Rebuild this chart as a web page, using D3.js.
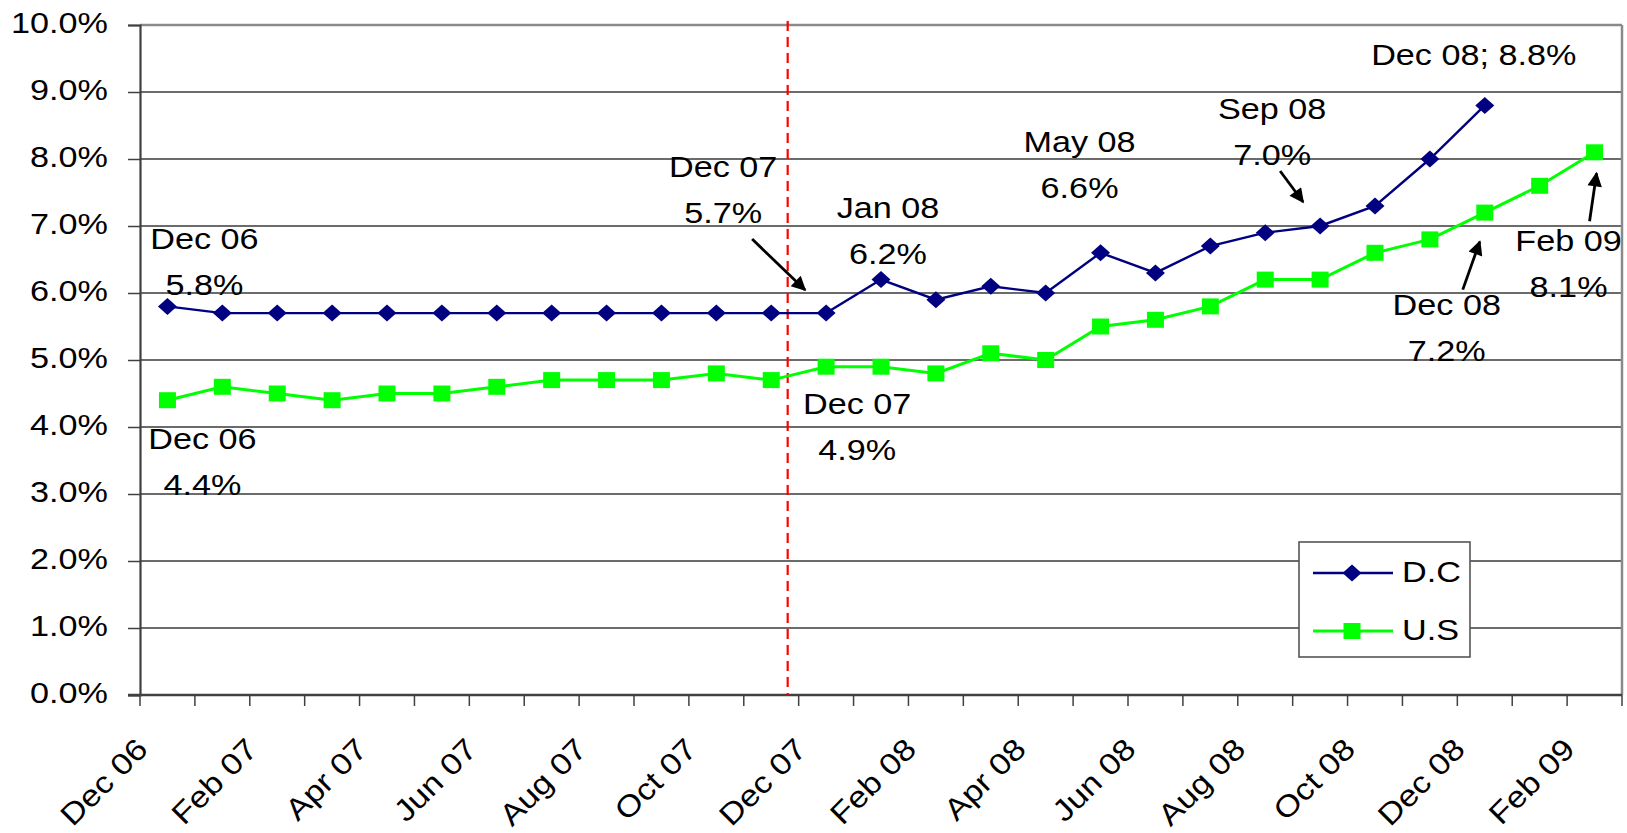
<!DOCTYPE html>
<html>
<head>
<meta charset="utf-8">
<script src="https://cdn.jsdelivr.net/npm/d3@7"></script>
<style>
  html, body { margin: 0; padding: 0; background: #ffffff; }
  svg { display: block; }
  text { font-family: "Liberation Sans", Arial, sans-serif; fill: #000; }
</style>
</head>
<body>
<svg id="chart" width="1627" height="833"></svg>
<script>
// Monthly unemployment rates, Dec 2006 – Feb 2009 (percent)
const months = ["Dec 06","Jan 07","Feb 07","Mar 07","Apr 07","May 07","Jun 07","Jul 07","Aug 07",
  "Sep 07","Oct 07","Nov 07","Dec 07","Jan 08","Feb 08","Mar 08","Apr 08","May 08","Jun 08",
  "Jul 08","Aug 08","Sep 08","Oct 08","Nov 08","Dec 08","Jan 09","Feb 09"];
const dcRate = [5.8,5.7,5.7,5.7,5.7,5.7,5.7,5.7,5.7,5.7,5.7,5.7,5.7,6.2,5.9,6.1,6.0,6.6,6.3,6.7,6.9,7.0,7.3,8.0,8.8];
const usRate = [4.4,4.6,4.5,4.4,4.5,4.5,4.6,4.7,4.7,4.7,4.8,4.7,4.9,4.9,4.8,5.1,5.0,5.5,5.6,5.8,6.2,6.2,6.6,6.8,7.2,7.6,8.1];
const axisLabels = ["Dec 06","Feb 07","Apr 07","Jun 07","Aug 07","Oct 07","Dec 07","Feb 08",
  "Apr 08","Jun 08","Aug 08","Oct 08","Dec 08","Feb 09"];
const yTicks = [0,1,2,3,4,5,6,7,8,9,10];
const seriesNames = ["D.C","U.S"];

// Called-out months (text is built from the series values)
const callouts = [
  {series: "D.C", month: "Dec 06"},
  {series: "U.S", month: "Dec 06"},
  {series: "D.C", month: "Dec 07"},
  {series: "D.C", month: "Jan 08"},
  {series: "U.S", month: "Dec 07"},
  {series: "D.C", month: "May 08"},
  {series: "D.C", month: "Sep 08"},
  {series: "D.C", month: "Dec 08", inline: true},
  {series: "U.S", month: "Dec 08"},
  {series: "U.S", month: "Feb 09"}
];

// Recession start marker: placed between Nov 07 and Dec 07
const recessionMarker = {after: "Nov 07", fraction: 0.3};

// ---- layout ----
const W = 1627, H = 833;
const plot = {left: 140, right: 1622, top: 25, bottom: 695};
const textStretch = 1.14;      // horizontal stretch applied to all text
const fontSize = 30;
const lineGap = 46;

// callout placement relative to the marked point (px)
const calloutLayout = {
  "D.C|Dec 06": {dx: 37, dy: -57},
  "U.S|Dec 06": {dx: 35, dy: 49},
  "D.C|Dec 07": {dx: -103, dy: -136, arrow: [-74, -74, -21, -23]},
  "D.C|Jan 08": {dx: 7, dy: -62},
  "U.S|Dec 07": {dx: 31, dy: 47},
  "D.C|May 08": {dx: -21, dy: -101},
  "D.C|Sep 08": {dx: -48, dy: -107, arrow: [-40, -55, -17, -24]},
  "D.C|Dec 08": {dx: -11, dy: -40},
  "U.S|Dec 08": {dx: -38, dy: 102, arrow: [-22, 77, -5, 29]},
  "U.S|Feb 09": {dx: -26, dy: 99, arrow: [-5, 69, 2, 21]}
};

const colors = {"D.C": "#000080", "U.S": "#00FF00"};

const svg = d3.select("#chart");

const x = d3.scaleBand().domain(months).range([plot.left, plot.right]).padding(0);
const xc = m => x(m) + x.bandwidth() / 2;
const y = d3.scaleLinear().domain([0, 10]).range([plot.bottom, plot.top]);

function stretchedText(g, px, py, str, anchor, rotate) {
  return g.append("text")
    .attr("transform", `translate(${px},${py})` + (rotate ? ` rotate(${rotate})` : "") + ` scale(${textStretch},1)`)
    .attr("text-anchor", anchor)
    .style("font-size", fontSize + "px")
    .text(str);
}

// arrowhead marker
svg.append("defs").append("marker")
  .attr("id", "arrowhead")
  .attr("viewBox", "0 0 10 10")
  .attr("refX", 9).attr("refY", 5)
  .attr("markerWidth", 6.5).attr("markerHeight", 5.2)
  .attr("markerUnits", "strokeWidth")
  .attr("orient", "auto")
  .append("path").attr("d", "M0,0 L10,5 L0,10 Z").attr("fill", "#000");

// gridlines
const grid = svg.append("g");
grid.selectAll("line").data(yTicks.filter(v => v > 0 && v < 10)).join("line")
  .attr("x1", plot.left).attr("x2", plot.right)
  .attr("y1", d => y(d)).attr("y2", d => y(d))
  .attr("stroke", "#3a3a3a").attr("stroke-width", 1.3);

// plot border (top & right in grey)
svg.append("line").attr("x1", plot.left).attr("x2", plot.right).attr("y1", y(10)).attr("y2", y(10))
  .attr("stroke", "#8a8a8a").attr("stroke-width", 2.5);
svg.append("line").attr("x1", plot.right).attr("x2", plot.right).attr("y1", plot.top).attr("y2", plot.bottom)
  .attr("stroke", "#8a8a8a").attr("stroke-width", 2.5);

// y axis
const yAxis = d3.axisLeft(y).tickValues(yTicks).tickSize(12).tickFormat("");
const yg = svg.append("g").attr("transform", `translate(${plot.left},0)`).call(yAxis);
yg.select(".domain").attr("stroke", "#404040").attr("stroke-width", 2.2);
yg.selectAll(".tick line").attr("stroke", "#404040").attr("stroke-width", 1.5);
const ylab = svg.append("g");
yTicks.forEach(v => stretchedText(ylab, 108, y(v) + 8, d3.format(".1f")(v) + "%", "end"));

// x axis: ticks at every month boundary
const boundaries = months.map(m => x(m)).concat([plot.right]);
const xg = svg.append("g");
xg.selectAll("line").data(boundaries).join("line")
  .attr("x1", d => d).attr("x2", d => d)
  .attr("y1", plot.bottom).attr("y2", plot.bottom + 11)
  .attr("stroke", "#404040").attr("stroke-width", 1.5);
xg.append("line").attr("x1", plot.left - 12).attr("x2", plot.right)
  .attr("y1", plot.bottom).attr("y2", plot.bottom)
  .attr("stroke", "#404040").attr("stroke-width", 2.5);
const xlab = svg.append("g");
axisLabels.forEach(m => stretchedText(xlab, xc(m) - 18, 751, m, "end", -45));

// recession marker
const rx = x(recessionMarker.after) + x.bandwidth() * (0.5 + recessionMarker.fraction);
svg.append("line").attr("x1", rx).attr("x2", rx).attr("y1", plot.top - 4).attr("y2", plot.bottom)
  .attr("stroke", "#ff0000").attr("stroke-width", 2.2).attr("stroke-dasharray", "10,6");

// series
const series = [
  {name: "D.C", values: dcRate},
  {name: "U.S", values: usRate}
];
const line = d3.line().x(d => xc(d.m)).y(d => y(d.v));
const diamond = "M0,-8.5 L9.5,0 L0,8.5 L-9.5,0 Z";
const square = "M-8.5,-8 L8.5,-8 L8.5,8 L-8.5,8 Z";
const shapes = {"D.C": diamond, "U.S": square};
const widths = {"D.C": 2.4, "U.S": 3};

series.forEach(s => {
  const pts = s.values.map((v, i) => ({m: months[i], v}));
  svg.append("path").datum(pts).attr("d", line)
    .attr("fill", "none").attr("stroke", colors[s.name]).attr("stroke-width", widths[s.name]);
  svg.append("g").selectAll("path").data(pts).join("path")
    .attr("transform", d => `translate(${xc(d.m)},${y(d.v)})`)
    .attr("d", shapes[s.name]).attr("fill", colors[s.name]);
});

// callouts
const cg = svg.append("g");
callouts.forEach(c => {
  const vals = c.series === "D.C" ? dcRate : usRate;
  const v = vals[months.indexOf(c.month)];
  const px = xc(c.month), py = y(v);
  const lay = calloutLayout[c.series + "|" + c.month];
  const valStr = d3.format(".1f")(v) + "%";
  const lines = c.inline ? [c.month + "; " + valStr] : [c.month, valStr];
  lines.forEach((str, k) => stretchedText(cg, px + lay.dx, py + lay.dy + k * lineGap, str, "middle"));
  if (lay.arrow) {
    const [x1, y1, x2, y2] = lay.arrow;
    cg.append("line")
      .attr("x1", px + x1).attr("y1", py + y1).attr("x2", px + x2).attr("y2", py + y2)
      .attr("stroke", "#000").attr("stroke-width", 2.8)
      .attr("marker-end", "url(#arrowhead)");
  }
});

// legend
const lg = svg.append("g");
const box = {x: 1299, y: 542, w: 171, h: 115};
lg.append("rect").attr("x", box.x).attr("y", box.y).attr("width", box.w).attr("height", box.h)
  .attr("fill", "#fff").attr("stroke", "#555").attr("stroke-width", 1.6);
seriesNames.forEach((name, i) => {
  const ly = box.y + 31 + i * 58;
  lg.append("line").attr("x1", box.x + 14).attr("x2", box.x + 94).attr("y1", ly).attr("y2", ly)
    .attr("stroke", colors[name]).attr("stroke-width", widths[name]);
  lg.append("path").attr("transform", `translate(${box.x + 53},${ly})`)
    .attr("d", shapes[name]).attr("fill", colors[name]);
  stretchedText(lg, box.x + 103, ly + 8.5, name, "start");
});
</script>
</body>
</html>
